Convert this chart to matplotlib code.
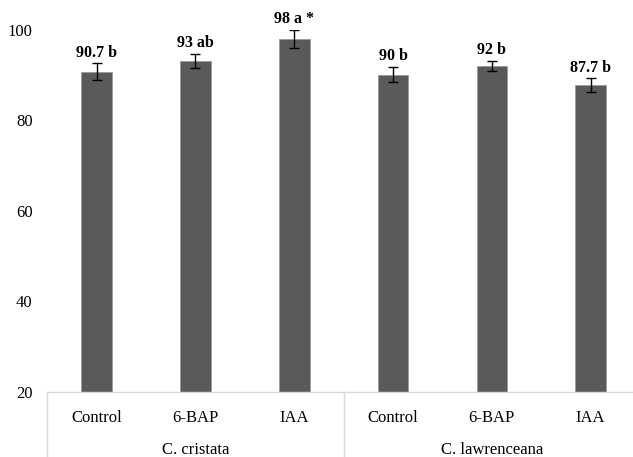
import numpy as np
import matplotlib
matplotlib.use("Agg")
import matplotlib.pyplot as plt
from matplotlib.lines import Line2D

treatments = ["Control", "6-BAP", "IAA", "Control", "6-BAP", "IAA"]
species = ["C. cristata", "C. lawrenceana"]
values = [90.7, 93, 98, 90, 92, 87.7]
errors = [1.8, 1.6, 2.0, 1.7, 1.1, 1.5]
labels = ["90.7 b", "93 ab", "98 a *", "90 b", "92 b", "87.7 b"]

plt.rcParams['font.family'] = ['Liberation Serif', 'DejaVu Serif']

W, H = 633, 457
fig = plt.figure(figsize=(W / 100, H / 100), dpi=100)
left, right, top, bottom = 47.3, 640, 29.5, 391.7
ax = fig.add_axes([left / W, 1 - bottom / H, (right - left) / W, (bottom - top) / H])

x = np.arange(len(values))
ax.bar(x, values, width=0.31, color="#5a5a5a", edgecolor="#9a9a9a", linewidth=0.6,
       yerr=errors, error_kw=dict(ecolor="black", elinewidth=1, capsize=3.5, capthick=1))

for xi, v, e, lab in zip(x, values, errors, labels):
    ax.annotate(lab, (xi, v + e), xytext=(0, 2), textcoords="offset points",
                ha="center", va="bottom", fontsize=11.5, fontweight="bold", clip_on=False)

ax.set_xlim(-0.5, 5.5)
ax.set_ylim(20, 100)
ax.set_yticks([20, 40, 60, 80, 100])
ax.tick_params(axis="y", length=0, pad=10.5, labelsize=12)
ax.set_xticks(x)
ax.set_xticklabels(treatments)
ax.tick_params(axis="x", length=0, pad=13, labelsize=12)

for s in ["top", "right", "left"]:
    ax.spines[s].set_visible(False)
ax.spines["bottom"].set_color("#d9d9d9")
ax.spines["bottom"].set_linewidth(1)

tr = ax.get_xaxis_transform()
for sx in [-0.5, 2.5, 5.5]:
    ax.add_line(Line2D([sx, sx], [0, -0.19], transform=tr, color="#d9d9d9",
                       linewidth=1, clip_on=False))
for i, sp in enumerate(species):
    ax.text(1 + 3 * i, -0.16, sp, transform=tr, ha="center", va="center", fontsize=12)

fig.savefig("out.png", dpi=100)
